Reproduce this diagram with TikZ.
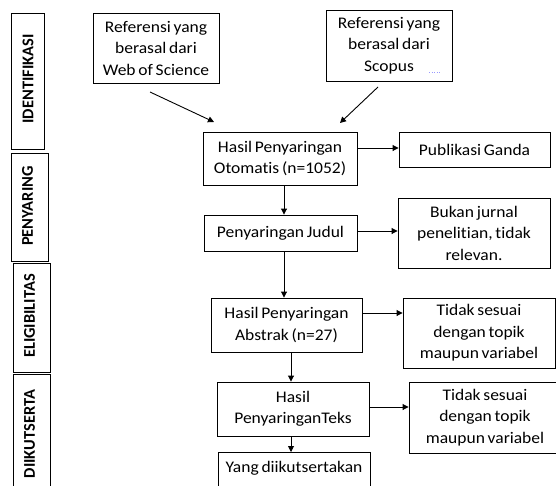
\documentclass[tikz,border=0pt]{standalone}
\usepackage{fontspec}
\setmainfont{Carlito}[Ligatures=NoCommon]
\newfontfamily\boxfont{Carlito}[FakeStretch=1.08,Ligatures=NoCommon,WordSpace=0.7]
\usetikzlibrary{arrows.meta}
\begin{document}
\begin{tikzpicture}[x=1pt,y=-1pt,
  box/.style={draw,line width=0.9pt,rectangle,inner sep=0pt,align=center,
    font=\boxfont\fontsize{16.2}{21.5}\selectfont},
  stage/.style={draw,line width=0.9pt,rectangle,inner sep=0pt},
  stagetext/.style={rotate=90,font=\fontsize{16.4}{18}\selectfont\bfseries,inner sep=0pt},
  arr/.style={line width=0.9pt,-{Triangle[length=6pt,width=6pt]}}]
\useasboundingbox (0,0) rectangle (556,485);
\clip (0,0) rectangle (556,485);
% stage labels
\node[stage,minimum width=33pt,minimum height=136pt] (s1) at (27.5,81) {};
\node[stagetext] at (28,79) {IDENTIFIKASI};
\node[stage,minimum width=37pt,minimum height=108pt] (s2) at (29.5,207) {};
\node[stagetext] at (27.5,206) {PENYARING};
\node[stage,minimum width=37pt,minimum height=109pt] (s3) at (31.5,317.5) {};
\node[stagetext] at (29.5,316) {ELIGIBILITAS};
\node[stage,minimum width=37pt,minimum height=122pt] (s4) at (31.5,435) {};
\node[stagetext] at (29.5,434) {DIIKUTSERTA};
% boxes
\node[box,minimum width=126pt,minimum height=70pt] (wos) at (156,48) {Referensi yang\\berasal dari\\Web of Science};
\node[box,minimum width=126pt,minimum height=71pt] (scopus) at (389,45.5) {Referensi yang\\berasal dari\\Scopus};
\draw[blue!40,line width=0.6pt,dotted] (429,72) -- (441,72);
\node[box,minimum width=154pt,minimum height=53pt] (oto) at (280,158.5) {Hasil Penyaringan\\Otomatis (n=1052)};
\node[box,minimum width=151pt,minimum height=35pt] (pub) at (474.5,149.5) {Publikasi Ganda};
\node[box,minimum width=153pt,minimum height=36pt] (judul) at (280.5,233) {Penyaringan Judul};
\node[box,minimum width=152pt,minimum height=70pt] (bukan) at (474,233) {Bukan jurnal\\penelitian, tidak\\relevan.};
\node[box,minimum width=151pt,minimum height=54pt] (abs) at (286.5,325) {Hasil Penyaringan\\Abstrak (n=27)};
\node[box,minimum width=152pt,minimum height=70pt] (tidak1) at (479,333) {Tidak sesuai\\dengan topik\\maupun variabel};
\node[box,minimum width=152pt,minimum height=54pt] (teks) at (293,409) {Hasil\\PenyaringanTeks};
\node[box,minimum width=152pt,minimum height=71pt] (tidak2) at (485,417.5) {Tidak sesuai\\dengan topik\\maupun variabel};
\node[box,minimum width=152pt,minimum height=60pt,anchor=north] (yang) at (294,452) {};
\node[font=\boxfont\fontsize{16.2}{21.5}\selectfont,inner sep=0pt] (yangt) at (294,468) {Yang diikutsertakan};
% connectors
\coordinate (w1) at (150,92);
\coordinate (w2) at (214,122);
\coordinate (c1) at (378,87);
\coordinate (c2) at (340,123);
\draw[arr] (w1) -- (w2);
\draw[arr] (c1) -- (c2);
\draw[arr] (oto.east |- 0,148) -- (pub.west |- 0,148);
\draw[arr] (oto.south -| 284,0) -- (judul.north -| 284,0);
\draw[arr] (judul.east |- 0,231) -- (bukan.west |- 0,231);
\draw[arr] (judul.south -| 284,0) -- (abs.north -| 284,0);
\draw[arr] (abs.east |- 0,313) -- (tidak1.west |- 0,313);
\draw[arr] (abs.south -| 291,0) -- (teks.north -| 291,0);
\draw[arr] (teks.east |- 0,407) -- (tidak2.west |- 0,407);
\draw[arr] (teks.south -| 291,0) -- (yang.north -| 291,0);
\end{tikzpicture}
\end{document}
